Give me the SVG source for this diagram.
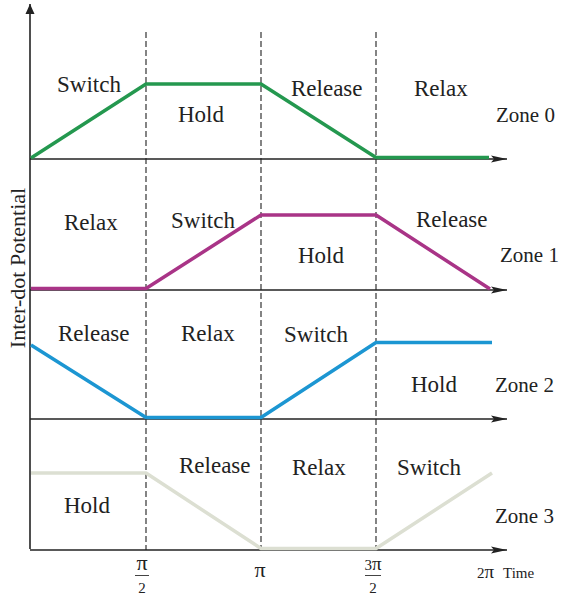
<svg xmlns="http://www.w3.org/2000/svg" width="562" height="597" viewBox="0 0 562 597">
<style>
text{font-family:"Liberation Serif","Times New Roman",serif;fill:#222}
.lab{font-size:23px}
.zone{font-size:21px}
.tick{font-size:22px}
.small{font-size:15px}
.ax{stroke:#222;stroke-width:1.6;fill:none}
.dash{stroke:#333;stroke-width:1.2;stroke-dasharray:6 3;fill:none}
.sig{fill:none;stroke-width:3.5;stroke-linejoin:round}
</style>
<defs>
<marker id="ah" viewBox="0 0 16 8" refX="16" refY="4" markerWidth="16" markerHeight="8" markerUnits="userSpaceOnUse" orient="auto">
<path d="M0,0.5 L16,4 L0,7.5 L3,4 Z" fill="#222"/>
</marker>
<marker id="av" viewBox="0 0 10 10" refX="10" refY="5" markerWidth="10" markerHeight="10" markerUnits="userSpaceOnUse" orient="auto">
<path d="M0,0.5 L10,5 L0,9.5 Z" fill="#222"/>
</marker>
</defs>
<g id="connectors">
<line class="ax" x1="30" y1="549" x2="30" y2="4" marker-end="url(#av)"/>
<line class="dash" x1="146" y1="32" x2="146" y2="550"/>
<line class="dash" x1="261" y1="32" x2="261" y2="550"/>
<line class="dash" x1="376" y1="32" x2="376" y2="550"/>
<line class="ax" x1="30" y1="159" x2="507" y2="159" marker-end="url(#ah)"/>
<line class="ax" x1="30" y1="290" x2="507" y2="290" marker-end="url(#ah)"/>
<line class="ax" x1="30" y1="419" x2="507" y2="419" marker-end="url(#ah)"/>
<line class="ax" x1="30" y1="550" x2="507" y2="550" marker-end="url(#ah)"/>
</g>
<g id="zone0">
<polyline class="sig" stroke="#24984f" points="31,158 146,84 261,84 376,157.5 489,157.5"/>
<text class="lab" x="57" y="92">Switch</text>
<text class="lab" x="178" y="122">Hold</text>
<text class="lab" x="291" y="96">Release</text>
<text class="lab" x="414" y="96">Relax</text>
<text class="zone" x="496" y="122">Zone 0</text>
</g>
<g id="zone1">
<polyline class="sig" stroke="#a93487" points="31,288.5 146,288.5 261,215 376,215 490,289"/>
<text class="lab" x="64" y="230">Relax</text>
<text class="lab" x="171" y="228">Switch</text>
<text class="lab" x="298" y="263">Hold</text>
<text class="lab" x="416" y="227">Release</text>
<text class="zone" x="500" y="262">Zone 1</text>
</g>
<g id="zone2">
<polyline class="sig" stroke="#1c96d2" points="31,345 146,417.5 261,417.5 376,342.5 492,342.5"/>
<text class="lab" x="58" y="341">Release</text>
<text class="lab" x="181" y="341">Relax</text>
<text class="lab" x="284" y="342">Switch</text>
<text class="lab" x="411" y="392">Hold</text>
<text class="zone" x="495" y="392">Zone 2</text>
</g>
<g id="zone3">
<polyline class="sig" stroke="#dcdfd2" stroke-width="3" points="31,473 146,473 261,548.5 376,548.5 492,473"/>
<text class="lab" x="64" y="513">Hold</text>
<text class="lab" x="179" y="473">Release</text>
<text class="lab" x="292" y="475">Relax</text>
<text class="lab" x="397" y="475">Switch</text>
<text class="zone" x="495" y="523">Zone 3</text>
</g>
<g id="axis-labels">
<text transform="translate(25,268) rotate(-90)" text-anchor="middle" style="font-size:22px">Inter-dot Potential</text>
<text class="tick" x="142" y="570" text-anchor="middle">π</text>
<line x1="135" y1="575.5" x2="149" y2="575.5" stroke="#444" stroke-width="1"/>
<text class="small" x="142" y="593" text-anchor="middle">2</text>
<text class="tick" x="260" y="577" text-anchor="middle">π</text>
<text class="small" x="373" y="570" text-anchor="middle">3<tspan style="font-size:19px">π</tspan></text>
<line x1="365" y1="575.5" x2="381" y2="575.5" stroke="#444" stroke-width="1"/>
<text class="small" x="373" y="593" text-anchor="middle">2</text>
<text class="small" x="477" y="578">2<tspan style="font-size:19px">π</tspan></text>
<text class="small" x="503" y="578">Time</text>
</g>
</svg>
